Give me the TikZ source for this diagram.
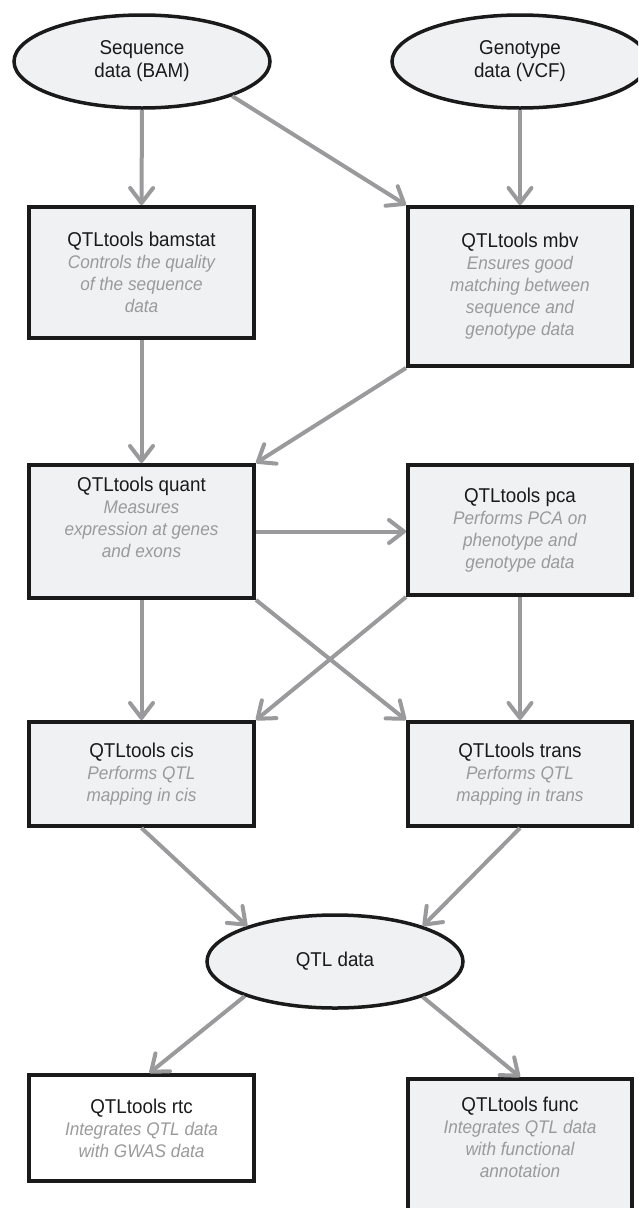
\documentclass[tikz,border=0pt]{standalone}
\usepackage{fontspec}
\setmainfont{Liberation Sans}
\newfontfamily\ttlfont{Liberation Sans}[FakeStretch=0.94]
\usetikzlibrary{arrows.meta,shapes.geometric,calc}
\definecolor{boxfill}{HTML}{F0F1F3}
\definecolor{arrowgray}{HTML}{9A9A9C}
\definecolor{descgray}{HTML}{9A9A9A}
\definecolor{ink}{HTML}{1A1A1A}
\newcommand{\dsc}[1]{{\fontsize{18.3}{22}\selectfont\itshape\color{descgray}#1}}
\tikzset{
  tool/.style={draw=ink, line width=4pt, fill=boxfill, rectangle, align=center,
    inner sep=0pt, font=\ttlfont\fontsize{20}{22}\selectfont, text=ink},
  datanode/.style={draw=ink, line width=3.5pt, fill=boxfill, ellipse, inner sep=0pt,
    minimum width=256pt, minimum height=93pt, align=center,
    font=\ttlfont\fontsize{20}{23}\selectfont, text=ink},
  arr/.style={draw=arrowgray, line width=4pt,
    -{Straight Barb[round, length=15pt, width=23pt]}}
}
\begin{document}
\begin{tikzpicture}[x=1pt, y=-1pt]
\path[use as bounding box] (0,0) rectangle (638,1208);
\clip (0,0) rectangle (638,1208);

% data nodes
\node[datanode] (seq) at (142,61.5) {Sequence\\data (BAM)};
\node[datanode] (geno) at (520,61.5) {Genotype\\data (VCF)};

% tool boxes
\node[tool, minimum width=225pt, minimum height=131pt] (bamstat) at (141.5,272.5)
  {QTLtools bamstat\\\dsc{Controls the quality}\\\dsc{of the sequence}\\\dsc{data}};
\node[tool, minimum width=224pt, minimum height=159pt] (mbv) at (520,286.5)
  {QTLtools mbv\\\dsc{Ensures good}\\\dsc{matching between}\\\dsc{sequence and}\\\dsc{genotype data}};
\node[tool, minimum width=225pt, minimum height=133pt] (quant) at (141.5,531.5)
  {QTLtools quant\\\dsc{Measures}\\\dsc{expression at genes}\\\dsc{and exons}\\[6pt]};
\node[tool, minimum width=224pt, minimum height=130pt] (pca) at (520,530)
  {QTLtools pca\\\dsc{Performs PCA on}\\\dsc{phenotype and}\\\dsc{genotype data}};
\node[tool, minimum width=225pt, minimum height=104pt] (cis) at (141.5,774)
  {QTLtools cis\\\dsc{Performs QTL}\\\dsc{mapping in cis}};
\node[tool, minimum width=224pt, minimum height=104pt] (trans) at (520,774)
  {QTLtools trans\\\dsc{Performs QTL}\\\dsc{mapping in trans}};

\node[datanode] (qtl) at (335,961.5) {QTL data};

\node[tool, fill=white, minimum width=225pt, minimum height=106pt] (rtc) at (141.5,1128)
  {QTLtools rtc\\\dsc{Integrates QTL data}\\\dsc{with GWAS data}};
\node[tool, anchor=north, minimum width=224pt, minimum height=170pt] (func) at (520,1077)
  {\parbox[c][160pt][t]{220pt}{\centering\ttlfont\fontsize{20}{22}\selectfont\vspace*{13pt}%
   QTLtools func\\\dsc{Integrates QTL data}\\\dsc{with functional}\\\dsc{annotation}}};

% connectors
\draw[arr] (seq.south) -- (bamstat.north);
\draw[arr] (seq.-21) -- (mbv.north west);
\draw[arr] (geno.south) -- (mbv.north);
\draw[arr] (bamstat.south) -- (quant.north);
\draw[arr] (mbv.south west) -- (quant.north east);
\draw[arr] (quant.east) -- (quant.east -| pca.west);
\draw[arr] (quant.south) -- (cis.north);
\draw[arr] (quant.south east) -- (trans.north west);
\draw[arr] (pca.south west) -- (cis.north east);
\draw[arr] (pca.south) -- (trans.north);
\draw[arr] (cis.south) -- (qtl.158);
\draw[arr] (trans.south) -- (qtl.22);
\draw[arr] (qtl.201) -- ($(rtc.north)+(8,0)$);
\draw[arr] (qtl.338) -- (func.north);
\end{tikzpicture}
\end{document}
